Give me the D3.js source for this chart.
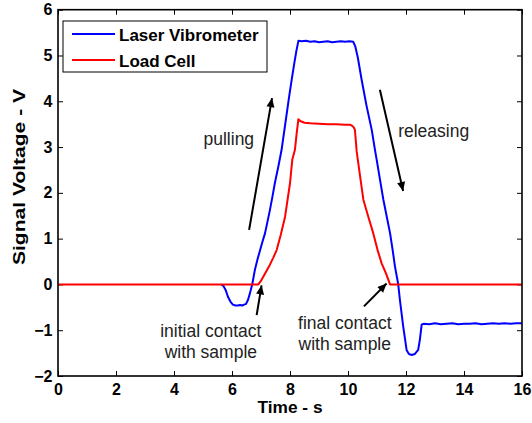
<!DOCTYPE html>
<html>
<head>
<meta charset="utf-8">
<script src="https://cdn.jsdelivr.net/npm/d3@7"></script>
<style>
  html, body { margin: 0; padding: 0; background: #fff; }
  svg { display: block; font-family: Arial, "Liberation Sans", sans-serif; }
</style>
</head>
<body>
<svg id="chart" width="532" height="423"></svg>
<script>
// Laser vibrometer signal (V) against time (s)
const laserT = [5.63, 5.70, 5.78, 5.86, 5.95, 6.03, 6.12, 6.20, 6.28, 6.35, 6.42, 6.48, 6.55, 6.62, 6.70, 6.79, 6.88, 6.97, 7.05, 7.14, 7.22, 7.30, 7.39, 7.48, 7.60, 7.71, 7.84, 7.97, 8.06, 8.15, 8.22, 8.29,
  8.40, 8.55, 8.70, 8.85, 9.00, 9.15, 9.30, 9.45, 9.60, 9.75, 9.90, 10.05, 10.18,
  10.25, 10.34, 10.47, 10.64, 10.82, 10.93, 10.99, 11.10, 11.22, 11.33, 11.45, 11.54, 11.62, 11.73, 11.79, 11.90, 12.02, 12.10, 12.20, 12.30, 12.42, 12.48, 12.54,
  12.60, 12.80, 13.00, 13.20, 13.40, 13.60, 13.80, 14.00, 14.20, 14.40, 14.60, 14.80, 15.00, 15.20, 15.40, 15.60, 15.80, 16.00];
const laserV = [0.00, -0.03, -0.12, -0.27, -0.38, -0.44, -0.46, -0.46, -0.45, -0.46, -0.44, -0.43, -0.34, -0.19, 0.01, 0.32, 0.55, 0.75, 0.93, 1.12, 1.36, 1.60, 1.90, 2.22, 2.58, 2.94, 3.52, 4.10, 4.48, 4.84, 5.10, 5.32,
  5.31, 5.32, 5.30, 5.31, 5.29, 5.30, 5.31, 5.29, 5.30, 5.31, 5.30, 5.31, 5.30,
  5.20, 4.95, 4.47, 3.90, 3.37, 2.94, 2.72, 2.30, 1.85, 1.50, 1.12, 0.75, 0.39, 0.01, -0.34, -0.90, -1.43, -1.52, -1.54, -1.52, -1.43, -1.20, -0.88,
  -0.86, -0.87, -0.85, -0.87, -0.86, -0.85, -0.87, -0.86, -0.86, -0.85, -0.87, -0.86, -0.85, -0.86, -0.85, -0.86, -0.85, -0.85];

// Load cell signal (V) against time (s)
const loadT = [0.00, 6.91, 7.02, 7.14, 7.30, 7.42, 7.54, 7.68, 7.83, 8.00, 8.08, 8.17, 8.23, 8.29,
  8.35, 8.50, 8.70, 9.00, 9.30, 9.60, 9.90, 10.07, 10.13,
  10.20, 10.24, 10.30, 10.45, 10.53, 10.70, 10.87, 11.02, 11.16, 11.31, 11.45, 16.00];
const loadV = [0.00, 0.00, 0.10, 0.24, 0.42, 0.58, 0.75, 1.08, 1.48, 2.21, 2.73, 2.94, 3.30, 3.61,
  3.57, 3.53, 3.52, 3.51, 3.50, 3.50, 3.49, 3.49, 3.47,
  3.43, 3.37, 2.90, 2.21, 1.85, 1.48, 1.12, 0.75, 0.46, 0.24, 0.00, 0.00];

const xTicks = [0, 2, 4, 6, 8, 10, 12, 14, 16];
const yTicks = [-2, -1, 0, 1, 2, 3, 4, 5, 6];

const seriesNames = ["Laser Vibrometer", "Load Cell"];
const seriesColors = ["#0000ff", "#ff0000"];

// Callouts: arrow tail (t, v), arrow head (t, v), label lines and label anchor (t, v)
const arrowTails = [[6.59, 1.19], [11.10, 4.25], [6.85, -0.67], [10.55, -0.48]];
const arrowHeads = [[7.38, 4.07], [11.90, 2.04], [7.02, -0.02], [11.33, 0.02]];
const noteLines = [["pulling"], ["releasing"], ["initial contact", "with sample"], ["final contact", "with sample"]];
const notePos = [[5.89, 3.04], [11.73, 3.23], [5.27, -1.15], [9.89, -0.98]];

const svg = d3.select("#chart");
const x = d3.scaleLinear().domain([0, 16]).range([58, 522]);
const y = d3.scaleLinear().domain([-2, 6]).range([376, 9.7]);

// Axes with inward ticks on all four sides
const axisFont = g => g.selectAll("text")
  .attr("font-size", 16).attr("font-weight", "bold").attr("fill", "#000")
  .attr("font-family", "Arial, 'Liberation Sans', sans-serif");

svg.append("g").attr("transform", `translate(0,${y(-2)})`)
  .call(d3.axisBottom(x).tickValues(xTicks).tickSize(-5).tickSizeOuter(0).tickPadding(8))
  .call(g => g.select(".domain").remove())
  .call(axisFont);
svg.append("g").attr("transform", `translate(0,${y(6)})`)
  .call(d3.axisTop(x).tickValues(xTicks).tickSize(-5).tickSizeOuter(0).tickFormat(""))
  .call(g => g.select(".domain").remove());
svg.append("g").attr("transform", `translate(${x(0)},0)`)
  .call(d3.axisLeft(y).tickValues(yTicks).tickSize(-5).tickSizeOuter(0).tickPadding(5.5))
  .call(g => g.select(".domain").remove())
  .call(axisFont);
svg.append("g").attr("transform", `translate(${x(16)},0)`)
  .call(d3.axisRight(y).tickValues(yTicks).tickSize(-5).tickSizeOuter(0).tickFormat(""))
  .call(g => g.select(".domain").remove());
svg.selectAll(".tick line").attr("stroke", "#000").attr("stroke-width", 1);

// Series
const line = d3.line().x(d => x(d[0])).y(d => y(d[1]));
const laser = laserT.map((t, i) => [t, laserV[i]]);
const load = loadT.map((t, i) => [t, loadV[i]]);
[laser, load].forEach((pts, i) => {
  svg.append("path").datum(pts)
    .attr("d", line)
    .attr("fill", "none")
    .attr("stroke", seriesColors[i])
    .attr("stroke-width", 2)
    .attr("stroke-linejoin", "round");
});

// Plot frame
svg.append("rect")
  .attr("x", x(0)).attr("y", y(6))
  .attr("width", x(16) - x(0)).attr("height", y(-2) - y(6))
  .attr("fill", "none").attr("stroke", "#000").attr("stroke-width", 1.6);

// Arrow callouts
svg.append("defs").append("marker")
  .attr("id", "head").attr("viewBox", "0 -5 10 10")
  .attr("refX", 10).attr("refY", 0)
  .attr("markerUnits", "userSpaceOnUse")
  .attr("markerWidth", 11).attr("markerHeight", 9)
  .attr("orient", "auto")
  .append("path").attr("d", "M0,-4.5L10,0L0,4.5Z").attr("fill", "#000");

arrowTails.forEach((a, i) => {
  const b = arrowHeads[i];
  svg.append("line")
    .attr("x1", x(a[0])).attr("y1", y(a[1]))
    .attr("x2", x(b[0])).attr("y2", y(b[1]))
    .attr("stroke", "#000").attr("stroke-width", 2)
    .attr("marker-end", "url(#head)");
});

noteLines.forEach((lines, i) => {
  const t = svg.append("text")
    .attr("x", x(notePos[i][0])).attr("y", y(notePos[i][1]))
    .attr("text-anchor", i === 1 ? "start" : "middle")
    .attr("font-size", 17.5).attr("fill", "#222");
  lines.forEach((s, j) => {
    t.append("tspan").attr("x", x(notePos[i][0])).attr("dy", j === 0 ? 0 : 21).text(s);
  });
});

// Axis titles
svg.append("text")
  .attr("x", (x(0) + x(16)) / 2).attr("y", 413)
  .attr("text-anchor", "middle")
  .attr("font-size", 16).attr("font-weight", "bold")
  .attr("textLength", 65).attr("lengthAdjust", "spacingAndGlyphs")
  .text("Time - s");
svg.append("text")
  .attr("transform", "translate(25,177) rotate(-90)")
  .attr("text-anchor", "middle")
  .attr("font-size", 16.5).attr("font-weight", "bold")
  .attr("textLength", 176).attr("lengthAdjust", "spacingAndGlyphs")
  .text("Signal Voltage - V");

// Legend
const legend = svg.append("g");
legend.append("rect")
  .attr("x", 63).attr("y", 21).attr("width", 204).attr("height", 51)
  .attr("fill", "#fff").attr("stroke", "#000").attr("stroke-width", 1);
seriesNames.forEach((name, i) => {
  const ly = 34 + i * 26;
  legend.append("line")
    .attr("x1", 72).attr("x2", 115).attr("y1", ly).attr("y2", ly)
    .attr("stroke", seriesColors[i]).attr("stroke-width", 2);
  legend.append("text")
    .attr("x", 119).attr("y", ly + 6.5)
    .attr("font-size", 17).attr("font-weight", "bold")
    .text(name);
});
</script>
</body>
</html>
